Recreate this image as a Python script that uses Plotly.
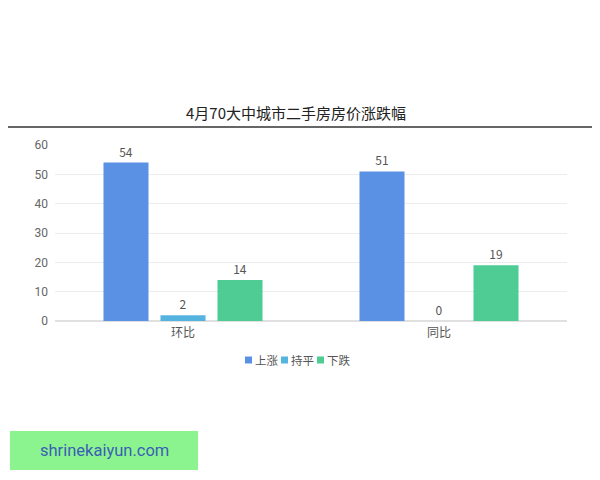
import plotly.graph_objects as go

# -- data -- #
categories = ['环比', '同比']
series_names = ['上涨', '持平', '下跌']
rise = [54, 51]
flat = [2, 0]
fall = [14, 19]
y_ticks = [0, 10, 20, 30, 40, 50, 60]

colors = ['#5b91e4', '#55b3e0', '#4fcb94']
font_family = 'Noto Sans CJK SC, Roboto, sans-serif'

# page body has an 8px margin, so the figure sits at (8, 8) in the window
PX_L, PX_B, PW, PH = 55, 321, 512, 176   # plot area in window pixels


def px_x(x):
    return (x - PX_L) / PW


def px_y(y):
    return (PX_B - y) / PH


fig = go.Figure()
for name, values, col in zip(series_names, [rise, flat, fall], colors):
    fig.add_trace(go.Bar(x=categories, y=values, name=name,
                         marker=dict(color=col, line=dict(width=0)),
                         text=values, textposition='outside',
                         textfont=dict(size=12, color='#555555'),
                         cliponaxis=False, showlegend=False))

fig.update_layout(
    width=600, height=480,
    paper_bgcolor='white', plot_bgcolor='white',
    margin=dict(l=PX_L - 8, r=600 - (PX_L - 8) - PW, t=PX_B - PH - 8, b=480 - (PX_B - 8)),
    font=dict(family=font_family, color='#666666', size=12),
    barmode='group', bargap=0.332, bargroupgap=0.21,
)
fig.update_yaxes(range=[0, 60], tickvals=y_ticks, showgrid=True, gridcolor='#ececec',
                 zeroline=True, zerolinecolor='#e0e0e0', ticks='', showline=False,
                 ticklabelstandoff=6,
                 tickfont=dict(size=12, color='#666666', family='Roboto, sans-serif'))
fig.update_xaxes(showgrid=False, ticks='', showline=False, ticklabelstandoff=3,
                 tickfont=dict(size=12, color='#555555'))

# title and rule below it
fig.add_annotation(text='4月70大中城市二手房房价涨跌幅', xref='paper', yref='paper',
                   x=px_x(296), y=px_y(113), xanchor='center', yanchor='middle',
                   showarrow=False, font=dict(size=15, color='#222222'))
fig.add_shape(type='line', xref='paper', yref='paper',
              x0=px_x(0), x1=px_x(600), y0=px_y(127), y1=px_y(127),
              line=dict(color='#333333', width=1.5))

# compact legend: small squares + labels
for i, (name, col) in enumerate(zip(series_names, colors)):
    sx = 245 + 36 * i
    fig.add_shape(type='rect', xref='paper', yref='paper',
                  x0=px_x(sx), x1=px_x(sx + 7), y0=px_y(363.5), y1=px_y(356.5),
                  fillcolor=col, line=dict(width=0))
    fig.add_annotation(text=name, xref='paper', yref='paper',
                       x=px_x(sx + 8), y=px_y(360), xanchor='left', yanchor='middle',
                       showarrow=False, font=dict(size=11.5, color='#555555'))

# watermark box
fig.add_shape(type='rect', xref='paper', yref='paper',
              x0=px_x(10), x1=px_x(198), y0=px_y(470), y1=px_y(431),
              fillcolor='#8cf48e', line=dict(width=0), layer='below')
fig.add_annotation(text='shrinekaiyun.com', xref='paper', yref='paper',
                   x=px_x(104), y=px_y(450), xanchor='center', yanchor='middle',
                   showarrow=False, font=dict(size=16.5, color='#3a5fb5', family='Roboto, sans-serif'))

fig.write_html('out.html')
